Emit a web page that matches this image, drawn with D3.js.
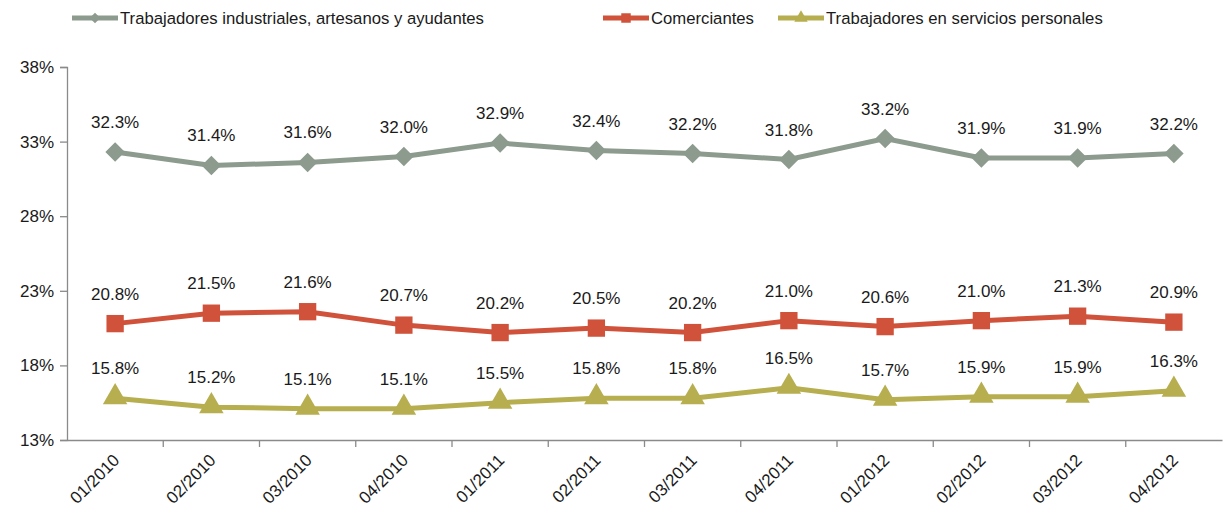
<!DOCTYPE html>
<html>
<head>
<meta charset="utf-8">
<script src="https://cdn.jsdelivr.net/npm/d3@7"></script>
<style>
  body { margin: 0; background: #fff; }
  text { font-family: "Liberation Sans", Arial, sans-serif; fill: #1a1a1a; }
</style>
</head>
<body>
<svg id="chart" width="1223" height="517"></svg>
<script>
// data
var quarters = ["01/2010", "02/2010", "03/2010", "04/2010", "01/2011", "02/2011",
  "03/2011", "04/2011", "01/2012", "02/2012", "03/2012", "04/2012"];
var industriales = [32.3, 31.4, 31.6, 32.0, 32.9, 32.4, 32.2, 31.8, 33.2, 31.9, 31.9, 32.2];
var comerciantes = [20.8, 21.5, 21.6, 20.7, 20.2, 20.5, 20.2, 21.0, 20.6, 21.0, 21.3, 20.9];
var servicios = [15.8, 15.2, 15.1, 15.1, 15.5, 15.8, 15.8, 16.5, 15.7, 15.9, 15.9, 16.3];
var yTicks = [13, 18, 23, 28, 33, 38];

// diamond = square turned 45deg (Excel style), not d3's tall diamond
var seriesList = [
  {name: "Trabajadores industriales, artesanos y ayudantes", values: industriales, color: "#8c9b8d", symbol: d3.symbolSquare, rotate: 45, size: 190, legendX: 72},
  {name: "Comerciantes", values: comerciantes, color: "#d0523b", symbol: d3.symbolSquare, rotate: 0, size: 300, legendX: 603},
  {name: "Trabajadores en servicios personales", values: servicios, color: "#b6ae4f", symbol: d3.symbolTriangle, rotate: 0, size: 260, legendX: 778}
];

var svg = d3.select("#chart");
var plot = {left: 67, right: 1222, top: 67, bottom: 440};

var x = d3.scaleBand().domain(quarters).range([plot.left, plot.right]);
var y = d3.scaleLinear().domain([13, 38]).range([plot.bottom, plot.top]);

function cx(i) { return x(quarters[i]) + x.bandwidth() / 2; }

// y axis
var yAxis = svg.append("g")
  .attr("transform", "translate(" + plot.left + ",0)")
  .call(d3.axisLeft(y).tickValues(yTicks).tickSize(7).tickPadding(6).tickFormat(function(d) { return d + "%"; }));
yAxis.select(".domain").attr("stroke", "#8a8a8a").attr("stroke-width", 1.3);
yAxis.selectAll(".tick line").attr("stroke", "#8a8a8a").attr("stroke-width", 1.3);
yAxis.selectAll("text").style("font-size", "17px").attr("fill", "#1f1f2f");

// x axis
var xAxis = svg.append("g")
  .attr("transform", "translate(0," + plot.bottom + ")")
  .call(d3.axisBottom(x).tickSize(0).tickFormat(""));
xAxis.select(".domain").attr("stroke", "#8a8a8a").attr("stroke-width", 1.3);

svg.append("g").selectAll("line")
  .data(quarters.slice(1))
  .join("line")
  .attr("x1", function(d) { return x(d); })
  .attr("x2", function(d) { return x(d); })
  .attr("y1", plot.bottom)
  .attr("y2", plot.bottom + 7)
  .attr("stroke", "#8a8a8a")
  .attr("stroke-width", 1.3);

svg.append("g").selectAll("text")
  .data(quarters)
  .join("text")
  .attr("transform", function(d, i) {
    return "translate(" + (cx(i) - 3) + "," + (plot.bottom + 13) + ") rotate(-45)";
  })
  .attr("text-anchor", "end")
  .attr("dy", "0.7em")
  .style("font-size", "17px")
  .text(function(d) { return d; });

var line = d3.line()
  .x(function(d, i) { return cx(i); })
  .y(function(d) { return y(d); });

seriesList.forEach(function(s) {
  var g = svg.append("g");
  g.append("path")
    .attr("d", line(s.values))
    .attr("fill", "none")
    .attr("stroke", s.color)
    .attr("stroke-width", 5);

  g.selectAll("path.marker")
    .data(s.values)
    .join("path")
    .attr("class", "marker")
    .attr("d", d3.symbol().type(s.symbol).size(s.size))
    .attr("transform", function(d, i) {
      var dy = s.symbol === d3.symbolTriangle ? -1 : 0;
      return "translate(" + cx(i) + "," + (y(d) + dy) + ") rotate(" + s.rotate + ")";
    })
    .attr("fill", s.color);

  g.selectAll("text.lbl")
    .data(s.values)
    .join("text")
    .attr("class", "lbl")
    .attr("x", function(d, i) { return cx(i); })
    .attr("y", function(d) { return y(d) - 24; })
    .attr("text-anchor", "middle")
    .style("font-size", "17px")
    .text(function(d) { return d.toFixed(1) + "%"; });

  // legend
  var lg = svg.append("g").attr("transform", "translate(" + s.legendX + ",18)");
  lg.append("line").attr("x1", 0).attr("x2", 46).attr("stroke", s.color).attr("stroke-width", 5);
  lg.append("path")
    .attr("d", d3.symbol().type(s.symbol).size(s.size * 0.3))
    .attr("transform", "translate(23,0) rotate(" + s.rotate + ")")
    .attr("fill", s.color);
  lg.append("text")
    .attr("x", 48)
    .attr("dy", "0.35em")
    .style("font-size", "16.7px")
    .text(s.name);
});
</script>
</body>
</html>
